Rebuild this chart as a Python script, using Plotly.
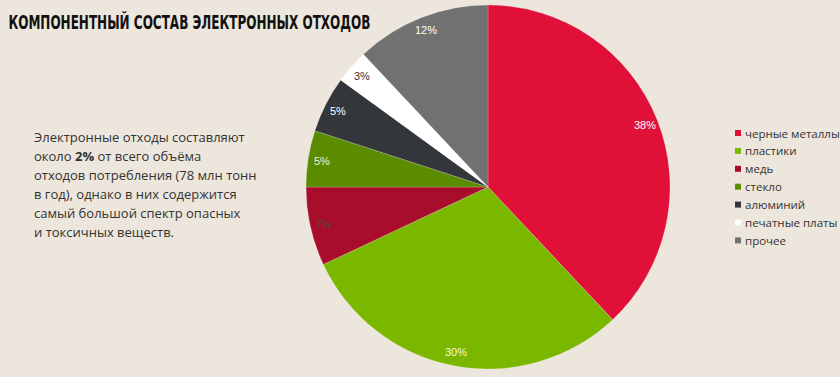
import math
import plotly.graph_objects as go

categories = ["черные металлы", "пластики", "медь", "стекло", "алюминий", "печатные платы", "прочее"]
values = [38, 30, 7, 5, 5, 3, 12]
colors = ["#e01038", "#7ab800", "#a80e2b", "#5b8c00", "#33373b", "#ffffff", "#717171"]
label_colors = ["#ffffff", "#f4f4e0", "#4a4a4a", "#e8f0d8", "#ffffff", "#333333", "#ffffff"]

title_text = "КОМПОНЕНТНЫЙ СОСТАВ ЭЛЕКТРОННЫХ ОТХОДОВ"
body_lines = [
    "Электронные отходы составляют",
    "около <b>2%</b> от всего объёма",
    "отходов потребления (78 млн тонн",
    "в год), однако в них содержится",
    "самый большой спектр опасных",
    "и токсичных веществ.",
]

W, H = 840, 377
cx, cy, R = 488, 187, 182

fig = go.Figure()
fig.add_trace(go.Pie(
    labels=categories, values=values,
    marker=dict(colors=colors, line=dict(color="rgba(255,255,255,0.4)", width=0.5)),
    sort=False, direction="clockwise", rotation=0,
    textinfo="none", hoverinfo="label+percent",
    domain=dict(x=[(cx - R) / W, (cx + R) / W], y=[1 - (cy + R) / H, 1 - (cy - R) / H]),
    showlegend=False,
))

annotations = []
shapes = []
total = sum(values)
cum = 0
for v, lc in zip(values, label_colors):
    mid = (cum + v / 2) / total * 2 * math.pi
    cum += v
    r = 0.925 * R
    px = cx + r * math.sin(mid)
    py = cy - r * math.cos(mid)
    annotations.append(dict(
        x=px / W, y=1 - py / H, xref="paper", yref="paper",
        text=f"{round(v / total * 100)}%", showarrow=False,
        font=dict(family="Liberation Sans, Arial, sans-serif", size=11, color=lc),
        xanchor="center", yanchor="middle",
    ))

# legend
lx, ly0, lstep = 735, 133, 17.9
for i, name in enumerate(categories):
    y = ly0 + i * lstep
    shapes.append(dict(type="rect", xref="paper", yref="paper",
                       x0=lx / W, x1=(lx + 6) / W, y0=1 - (y + 3) / H, y1=1 - (y - 3) / H,
                       fillcolor=colors[i], line=dict(width=0)))
    annotations.append(dict(
        x=(lx + 8) / W, y=1 - y / H, xref="paper", yref="paper",
        text=name, showarrow=False, xanchor="left", yanchor="middle",
        font=dict(family="Open Sans, Noto Sans, sans-serif", size=11.5, color="#333333"),
    ))

# title (compressed horizontally via textLength after render)
title_left, title_width = 8, 362
annotations.append(dict(
    x=(title_left + title_width / 2) / W, y=1 - 22 / H, xref="paper", yref="paper",
    text=title_text, showarrow=False, name="title",
    xanchor="center", yanchor="middle", align="center",
    font=dict(family="DejaVu Sans, sans-serif", size=19, color="#111111", weight=700),
))

# body text, one annotation per line
for i, line in enumerate(body_lines):
    annotations.append(dict(
        x=32 / W, y=1 - (137 + i * 19) / H, xref="paper", yref="paper",
        text=line, showarrow=False, xanchor="left", yanchor="middle", align="left",
        font=dict(family="Open Sans, Noto Sans, sans-serif", size=13, color="#333333"),
    ))

fig.update_layout(
    width=W, height=H,
    margin=dict(l=0, r=0, t=0, b=0),
    paper_bgcolor="#ede6dc", plot_bgcolor="#ede6dc",
    annotations=annotations, shapes=shapes,
)

post = """
document.body.style.margin = '0';
document.body.style.background = '#ede6dc';
function squeezeTitle() {
  var els = document.querySelectorAll('text.annotation-text');
  els.forEach(function (t) {
    if (t.textContent.indexOf('КОМПОНЕНТНЫЙ') === 0) {
      var target = %d;
      t.setAttribute('textLength', String(target));
      t.setAttribute('lengthAdjust', 'spacingAndGlyphs');
      var bg = t.parentNode.querySelector('rect.bg');
      if (bg && !bg.dataset.squeezed) {
        var w = parseFloat(bg.getAttribute('width'));
        var x = parseFloat(bg.getAttribute('x') || '0');
        if (w > target) {
          bg.setAttribute('x', String(x + (w - target) / 2));
          bg.setAttribute('width', String(target));
        }
        bg.dataset.squeezed = '1';
      }
    }
  });
}
squeezeTitle();
setTimeout(squeezeTitle, 50);
setTimeout(squeezeTitle, 300);
""" % title_width

fig.write_html("out.html", post_script=post, config={"displayModeBar": False})
